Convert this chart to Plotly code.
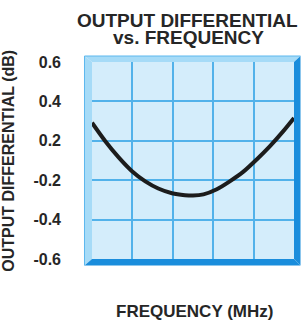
import plotly.graph_objects as go

# Data (x in grid columns across the frequency span, y in grid rows, bottom row = -0.6 label)
freq_pos = [0.0, 0.33, 0.66, 0.99, 1.32, 1.64, 1.98, 2.3, 2.5, 2.76, 3.09, 3.41, 3.74, 4.07, 4.40, 4.73, 5.0]
diff_pos = [3.46, 2.99, 2.58, 2.23, 1.97, 1.79, 1.67, 1.62, 1.61, 1.64, 1.77, 1.97, 2.21, 2.52, 2.86, 3.24, 3.58]
y_tick_pos = [0, 1, 2, 3, 4, 5]
y_tick_labels = ["-0.6", "-0.4", "-0.2", "0.2", "0.4", "0.6"]
x_grid_pos = [0, 1, 2, 3, 4, 5]

W, H = 304, 323
L_in, R_in, T_in, B_in = 92, 294, 62, 259.5
L_out, R_out, T_out, B_out = 84.5, 300.5, 56, 266

pw = R_in - L_in
ph = B_in - T_in

def px(x):
    return (x - L_in) / pw

def py(y):
    return (B_in - y) / ph

TXT = "#262626"
FONT = "Liberation Sans, Arial, sans-serif"

fig = go.Figure()
fig.add_trace(go.Scatter(
    x=freq_pos, y=diff_pos, mode="lines",
    line=dict(color="#1c1c1c", width=4, shape="spline", smoothing=0.8),
    hoverinfo="skip", showlegend=False,
))

light = "#a6dbf7"
dark = "#1a8ddc"
shapes = []
def poly(pts, color):
    d = "M " + " L ".join(f"{px(a):.5f},{py(b):.5f}" for a, b in pts) + " Z"
    shapes.append(dict(type="path", xref="paper", yref="paper", path=d,
                       fillcolor=color, line=dict(width=0), layer="above"))

poly([(L_out, T_out), (R_out, T_out), (R_in, T_in), (L_in, T_in)], light)
poly([(L_out, T_out), (L_in, T_in), (L_in, B_in), (L_out, B_out)], light)
poly([(R_out, T_out), (R_out, B_out), (R_in, B_in), (R_in, T_in)], dark)
poly([(L_out, B_out), (R_out, B_out), (R_in, B_in), (L_in, B_in)], dark)
shapes.append(dict(type="path", xref="paper", yref="paper",
                   path=f"M {px(L_out):.5f},{py(B_out):.5f} L {px(L_out):.5f},{py(T_out):.5f} L {px(R_out):.5f},{py(T_out):.5f}",
                   line=dict(color="#5cb8ee", width=1), layer="above"))

fig.update_layout(
    width=W, height=H,
    margin=dict(l=L_in, r=W - R_in, t=T_in, b=H - B_in),
    paper_bgcolor="white", plot_bgcolor="#d4edfb",
    shapes=shapes,
    xaxis=dict(range=[0, 5], tickvals=x_grid_pos, showticklabels=False,
               showgrid=True, gridcolor="#52b2ea", gridwidth=1.5,
               zeroline=False, showline=False, fixedrange=True),
    yaxis=dict(range=[0, 5], tickvals=y_tick_pos, ticktext=y_tick_labels,
               showgrid=True, gridcolor="#52b2ea", gridwidth=1.5,
               zeroline=False, showline=False, ticklabelstandoff=30,
               tickfont=dict(family=FONT, size=16, color=TXT, weight="bold"),
               fixedrange=True),
    annotations=[
        dict(text="OUTPUT DIFFERENTIAL", xref="paper", yref="paper",
             x=px(187), y=py(20.5), xanchor="center", yanchor="middle", showarrow=False,
             font=dict(family=FONT, size=19, color=TXT, weight="bold")),
        dict(text="vs. FREQUENCY", xref="paper", yref="paper",
             x=px(188), y=py(37.5), xanchor="center", yanchor="middle", showarrow=False,
             font=dict(family=FONT, size=19, color=TXT, weight="bold")),
        dict(text="OUTPUT DIFFERENTIAL (dB)", xref="paper", yref="paper",
             x=px(9), y=py(161), xanchor="center", yanchor="middle", showarrow=False,
             textangle=-90,
             font=dict(family=FONT, size=16, color=TXT, weight="bold")),
        dict(text="FREQUENCY (MHz)", xref="paper", yref="paper",
             x=px(194), y=py(312), xanchor="center", yanchor="middle", showarrow=False,
             font=dict(family=FONT, size=17, color=TXT, weight="bold")),
    ],
)

fig.write_html("out.html", config={"displayModeBar": False},
               post_script="document.body.style.margin='0';document.body.style.padding='0';")
